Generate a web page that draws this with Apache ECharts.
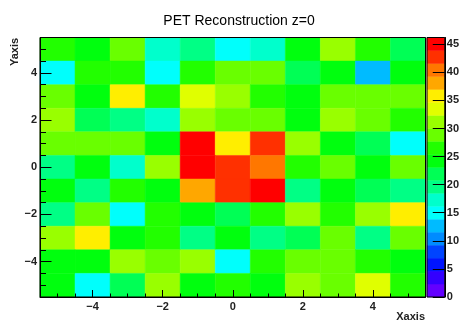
<!DOCTYPE html>
<html>
<head>
<meta charset="utf-8">
<script src="https://cdn.jsdelivr.net/npm/echarts@6/dist/echarts.min.js"></script>
<style>
  html, body { margin: 0; padding: 0; background: #fff; }
  #chart { width: 462px; height: 322px; }
</style>
</head>
<body>
<div id="chart"></div>
<script>
// Bin centres of the 11 x 11 histogram (x left to right, y top to bottom)
const xCenters = [-5, -4, -3, -2, -1, 0, 1, 2, 3, 4, 5];
const yCenters = [5, 4, 3, 2, 1, 0, -1, -2, -3, -4, -5];

// Bin contents, one row per y bin (top row first)
const row_p5 = [26.1, 24.5, 28.4, 17.0, 19.9, 15.3, 17.6, 23.8, 31.5, 26.9, 21.6];
const row_p4 = [14.7, 26.4, 27.0, 15.2, 26.2, 29.3, 28.6, 22.2, 24.0, 12.5, 24.6];
const row_p3 = [28.7, 24.1, 35.6, 26.8, 33.2, 31.0, 26.3, 24.5, 29.1, 28.5, 28.2];
const row_p2 = [31.6, 21.5, 19.4, 17.1, 31.0, 28.8, 29.4, 23.9, 30.8, 28.9, 26.7];
const row_p1 = [28.3, 29.0, 28.6, 24.2, 46.2, 35.4, 42.9, 31.3, 24.7, 22.3, 14.9];
const row_0  = [19.8, 24.4, 16.9, 31.4, 45.1, 43.2, 40.6, 26.1, 29.2, 24.0, 28.4];
const row_m1 = [24.7, 19.3, 26.9, 24.1, 38.3, 42.4, 44.6, 19.7, 23.6, 21.5, 19.1];
const row_m2 = [20.1, 28.6, 15.1, 26.5, 24.6, 22.4, 27.1, 30.9, 26.2, 31.5, 36.0];
const row_m3 = [31.9, 35.1, 24.0, 26.3, 19.5, 23.9, 19.9, 22.0, 29.5, 18.9, 28.8];
const row_m4 = [23.8, 24.9, 30.7, 29.6, 31.7, 15.4, 26.0, 28.1, 29.2, 25.9, 24.4];
const row_m5 = [24.1, 15.6, 21.2, 31.1, 24.8, 27.1, 23.5, 30.6, 28.7, 33.8, 26.4];
const rows = [row_p5, row_p4, row_p3, row_p2, row_p1, row_0, row_m1, row_m2, row_m3, row_m4, row_m5];

// Axis tick positions and labels
const xyMajorTicks = [-4, -2, 0, 2, 4];
const xyMinorTicks = [-5.5, -5, -4.5, -3.5, -3, -2.5, -1.5, -1, -0.5, 0.5, 1, 1.5, 2.5, 3, 3.5, 4.5, 5, 5.5];
const zTickLabels = [0, 5, 10, 15, 20, 25, 30, 35, 40, 45];

// 20-level violet -> red rainbow palette
const paletteColors = [
  '#6300ff', '#3300ff', '#0014ff', '#0044ff', '#008bff',
  '#00bbff', '#00fffc', '#00ffcc', '#00ff85', '#00ff55',
  '#00ff0e', '#22ff00', '#69ff00', '#99ff00', '#e0ff00',
  '#ffee00', '#ffa700', '#ff7700', '#ff3000', '#ff0000'
];

const FONT = 'Liberation Sans, Arial, Helvetica, sans-serif';

const cells = [];
rows.forEach((row, r) => row.forEach((v, c) => cells.push([xCenters[c], yCenters[r], v])));

const zMin = 0;
const zMax = Math.max.apply(null, cells.map(d => d[2]));
const nLevels = paletteColors.length;
const zStep = (zMax - zMin) / nLevels;

const pieces = paletteColors.map((col, k) => {
  const p = { gte: zMin + k * zStep, color: col };
  if (k < nLevels - 1) p.lt = zMin + (k + 1) * zStep; else p.lte = zMax + 1e-9;
  return p;
});
const paletteBands = paletteColors.map((col, k) => [zMin + k * zStep, zMin + (k + 1) * zStep, k]);

const chart = echarts.init(document.getElementById('chart'), null, { renderer: 'canvas' });

const tickStyle = { color: '#000', width: 1 };
const labelStyle = { color: '#222', fontSize: 11, fontWeight: 'bold', fontFamily: FONT };
const signed = v => (v < 0 ? '\u2212' + Math.abs(v) : String(v));

chart.setOption({
  animation: false,
  backgroundColor: '#fff',
  title: {
    text: 'PET Reconstruction z=0',
    left: 234, top: 9, textAlign: 'center',
    textStyle: { fontSize: 14, fontWeight: 'normal', fontFamily: FONT, color: '#000' }
  },
  grid: [
    { left: 40, right: 36.5, top: 37.5, bottom: 25, show: true, z: 5,
      borderColor: '#000', borderWidth: 1, backgroundColor: 'transparent' },
    { left: 427, width: 22, top: 37.5, bottom: 25, show: true, z: 5,
      borderColor: '#000', borderWidth: 1, backgroundColor: 'transparent' }
  ],
  xAxis: [
    { gridIndex: 0, type: 'value', min: -5.5, max: 5.5, z: 6, position: 'bottom',
      axisLine: { show: true, onZero: false, lineStyle: { color: '#000' } },
      axisTick: { show: true, inside: true, length: 7, customValues: xyMajorTicks, lineStyle: tickStyle },
      axisLabel: Object.assign({ customValues: xyMajorTicks, margin: 4, formatter: signed }, labelStyle),
      splitLine: { show: false } },
    { gridIndex: 0, type: 'value', min: -5.5, max: 5.5, z: 6, position: 'bottom',
      axisLine: { show: false, onZero: false },
      axisTick: { show: true, inside: true, length: 3.5, customValues: xyMinorTicks, lineStyle: tickStyle },
      axisLabel: { show: false }, splitLine: { show: false } },
    { gridIndex: 1, type: 'value', min: 0, max: 1, show: false }
  ],
  yAxis: [
    { gridIndex: 0, type: 'value', min: -5.5, max: 5.5, z: 6, position: 'left',
      axisLine: { show: true, onZero: false, lineStyle: { color: '#000' } },
      axisTick: { show: true, inside: true, length: 11.5, customValues: xyMajorTicks, lineStyle: tickStyle },
      axisLabel: Object.assign({ customValues: xyMajorTicks, margin: 3, formatter: signed }, labelStyle),
      splitLine: { show: false } },
    { gridIndex: 0, type: 'value', min: -5.5, max: 5.5, z: 6, position: 'left',
      axisLine: { show: false, onZero: false },
      axisTick: { show: true, inside: true, length: 6, customValues: xyMinorTicks, lineStyle: tickStyle },
      axisLabel: { show: false }, splitLine: { show: false } },
    { gridIndex: 1, type: 'value', min: zMin, max: zMax, position: 'right', z: 6,
      axisLine: { show: true, onZero: false, lineStyle: { color: '#000' } },
      axisTick: { show: true, inside: true, length: 12, customValues: zTickLabels, lineStyle: tickStyle },
      axisLabel: Object.assign({ customValues: zTickLabels, margin: 2 }, labelStyle),
      splitLine: { show: false } }
  ],
  visualMap: {
    type: 'piecewise', show: false, dimension: 2, seriesIndex: 0, pieces: pieces
  },
  series: [
    {
      type: 'custom', xAxisIndex: 0, yAxisIndex: 0, data: cells,
      encode: { x: 0, y: 1 },
      renderItem: function (params, api) {
        const x = api.value(0), y = api.value(1);
        const p0 = api.coord([x - 0.5, y + 0.5]);
        const p1 = api.coord([x + 0.5, y - 0.5]);
        const col = api.visual('color');
        return { type: 'rect',
          shape: { x: p0[0], y: p0[1], width: p1[0] - p0[0], height: p1[1] - p0[1] },
          style: { fill: col, stroke: col, lineWidth: 0.5 } };
      }
    },
    {
      type: 'custom', xAxisIndex: 2, yAxisIndex: 2, data: paletteBands,
      encode: { y: [0, 1] },
      renderItem: function (params, api) {
        const lo = api.value(0), hi = api.value(1), k = api.value(2);
        const p0 = api.coord([0, hi]);
        const p1 = api.coord([1, lo]);
        const col = paletteColors[k];
        return { type: 'rect',
          shape: { x: p0[0], y: p0[1], width: p1[0] - p0[0], height: p1[1] - p0[1] },
          style: { fill: col, stroke: col, lineWidth: 0.5 } };
      }
    }
  ],
  graphic: [
    { type: 'text', right: 37, top: 311,
      style: { text: 'Xaxis', fill: '#222', font: 'bold 11px ' + FONT, textAlign: 'right' } },
    { type: 'text', x: 9, y: 66, rotation: Math.PI / 2,
      style: { text: 'Yaxis', fill: '#222', font: 'bold 11px ' + FONT, textAlign: 'left', textVerticalAlign: 'top' } }
  ]
});
</script>
</body>
</html>
